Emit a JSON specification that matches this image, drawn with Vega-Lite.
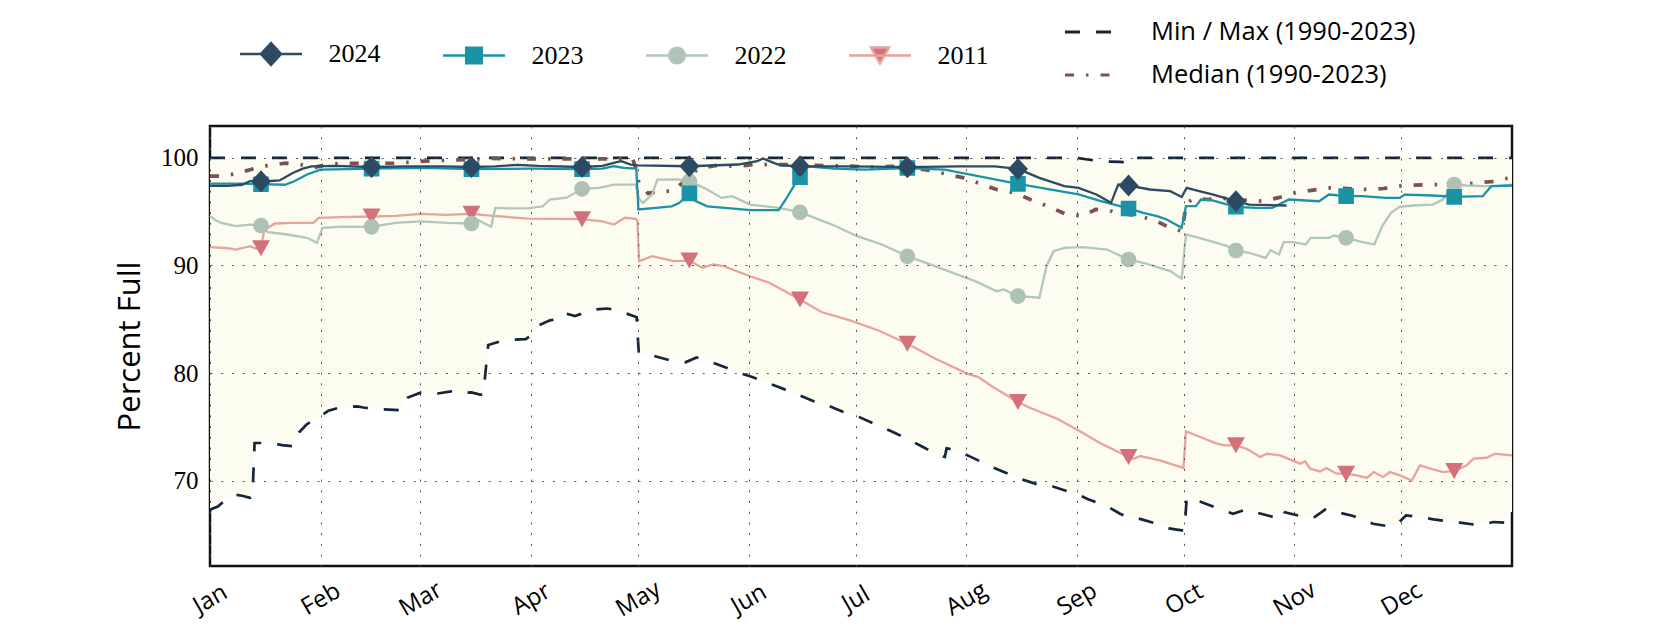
{
  "$schema": "https://vega.github.io/schema/vega-lite/v6.json",
  "width": 1302,
  "height": 440,
  "autosize": {"type": "none"},
  "padding": {"left": 210, "top": 126, "right": 168, "bottom": 64},
  "background": "#ffffff",
  "config": {
    "view": {"stroke": "#111111", "strokeWidth": 2.5},
    "axis": {"grid": true, "gridColor": "#555555", "gridWidth": 1, "gridDash": [2, 8.7], "ticks": false, "tickSize": 0, "domain": false, "labelColor": "#000000", "titleColor": "#000000", "labelFlush": false, "labelOverlap": false, "labelBound": false},
    "axisX": {"labelFont": "Open Sans", "labelFontSize": 24, "labelAngle": -30, "labelAlign": "center", "labelBaseline": "middle", "labelPadding": 33},
    "axisY": {"labelFont": "Liberation Serif", "labelFontSize": 25, "labelPadding": 12, "titleFont": "Open Sans", "titleFontSize": 31, "titleFontWeight": "normal", "titleAngle": 270, "titleAlign": "center", "titleBaseline": "middle", "titleX": -80, "titleY": 220},
    "legend": {"padding": 0}
  },
  "datasets": {
    "env": [
      {"day":0,"min":67.3,"max":100},{"day":2.2,"min":67.6,"max":100},{"day":5,"min":68.4,"max":100},{"day":7.2,"min":68.7,"max":100},{"day":9,"min":68.6,"max":100},{"day":11.2,"min":68.4,"max":100},{"day":11.9,"min":68.5,"max":100},{"day":12.5,"min":73.5,"max":100},{"day":17,"min":73.5,"max":100},{"day":20.2,"min":73.3,"max":100},{"day":23.3,"min":73.2,"max":100},{"day":25,"min":74.5,"max":100},{"day":27,"min":75.2,"max":100},{"day":29.2,"min":75.7,"max":100},{"day":31,"min":76.0,"max":100},{"day":33.2,"min":76.5,"max":100},{"day":36.3,"min":76.8,"max":100},{"day":41.2,"min":76.9,"max":100},{"day":43,"min":76.8,"max":100},{"day":45.3,"min":76.7,"max":100},{"day":50,"min":76.6,"max":100},{"day":53.5,"min":76.55,"max":100},{"day":55.3,"min":77.7,"max":100},{"day":59.2,"min":78.2,"max":100},{"day":63.8,"min":78.1,"max":100},{"day":67.6,"min":78.3,"max":100},{"day":69,"min":78.1,"max":100},{"day":73.3,"min":78.2,"max":100},{"day":75.7,"min":78.0,"max":100},{"day":76.6,"min":78.0,"max":100},{"day":78,"min":82.6,"max":100},{"day":81.8,"min":83.0,"max":100},{"day":85.3,"min":83.1,"max":100},{"day":88.5,"min":83.15,"max":100},{"day":90,"min":83.5,"max":100},{"day":92,"min":84.4,"max":100},{"day":95.3,"min":84.9,"max":100},{"day":97,"min":85.0,"max":100},{"day":99,"min":85.6,"max":100},{"day":102.3,"min":85.3,"max":100},{"day":104,"min":85.5,"max":100},{"day":106.3,"min":85.8,"max":100},{"day":108,"min":85.9,"max":100},{"day":111.3,"min":86.0,"max":100},{"day":113,"min":85.9,"max":100},{"day":115.3,"min":85.7,"max":100},{"day":118.3,"min":85.35,"max":100},{"day":119.6,"min":85.2,"max":100},{"day":120.2,"min":81.9,"max":100},{"day":123.3,"min":81.7,"max":100},{"day":129.3,"min":81.15,"max":100},{"day":133.3,"min":81.0,"max":100},{"day":136.4,"min":81.45,"max":100},{"day":139.4,"min":81.15,"max":100},{"day":144.4,"min":80.55,"max":100},{"day":147.4,"min":80.1,"max":100},{"day":151.4,"min":79.7,"max":100},{"day":159.4,"min":78.7,"max":100},{"day":164,"min":78.1,"max":100},{"day":169.4,"min":77.35,"max":100},{"day":172.4,"min":77.1,"max":100},{"day":177.4,"min":76.4,"max":100},{"day":181.4,"min":76.0,"max":100},{"day":187.4,"min":75.1,"max":100},{"day":191,"min":74.6,"max":100},{"day":195.4,"min":73.9,"max":100},{"day":200,"min":73.1,"max":100},{"day":204.6,"min":72.3,"max":100},{"day":206,"min":72.2,"max":100},{"day":206.5,"min":73.0,"max":100},{"day":208.4,"min":72.9,"max":100},{"day":212.4,"min":72.35,"max":100},{"day":219.4,"min":71.25,"max":100},{"day":227.4,"min":70.15,"max":100},{"day":233.4,"min":69.5,"max":100},{"day":236.3,"min":69.45,"max":100},{"day":242,"min":68.85,"max":100},{"day":243.5,"min":68.7,"max":99.97},{"day":246,"min":68.3,"max":99.85},{"day":249.5,"min":67.86,"max":99.7},{"day":252.3,"min":67.46,"max":99.65},{"day":255,"min":66.95,"max":99.62},{"day":257,"min":66.63,"max":99.6},{"day":258,"min":66.6,"max":99.6},{"day":258.6,"min":66.55,"max":100},{"day":259.8,"min":66.53,"max":100},{"day":265.4,"min":66.0,"max":100},{"day":269.2,"min":65.54,"max":100},{"day":272.4,"min":65.38,"max":100},{"day":273.2,"min":65.4,"max":100},{"day":273.8,"min":68.39,"max":100},{"day":277.5,"min":68.07,"max":100},{"day":282.2,"min":67.46,"max":100},{"day":286.8,"min":66.93,"max":100},{"day":290.6,"min":67.33,"max":100},{"day":293.4,"min":67.03,"max":100},{"day":298,"min":66.63,"max":100},{"day":300,"min":67.4,"max":100},{"day":301,"min":67.09,"max":100},{"day":305.6,"min":66.72,"max":100},{"day":309.3,"min":66.53,"max":100},{"day":313,"min":67.4,"max":100},{"day":315.8,"min":67.09,"max":100},{"day":320.5,"min":66.72,"max":100},{"day":326,"min":66.0,"max":100},{"day":329.9,"min":65.79,"max":100},{"day":332.4,"min":65.85,"max":100},{"day":335.3,"min":66.77,"max":100},{"day":339.2,"min":66.63,"max":100},{"day":343,"min":66.4,"max":100},{"day":350.4,"min":66.1,"max":100},{"day":356,"min":65.85,"max":100},{"day":359.8,"min":66.16,"max":100},{"day":363,"min":66.1,"max":100},{"day":363.7,"min":66.93,"max":100},{"day":365,"min":67.1,"max":100}
    ],
    "med": [
      {"day":0,"median":98.3},{"day":4,"median":98.3},{"day":8,"median":98.6},{"day":11.2,"median":98.9},{"day":14.4,"median":99.2},{"day":21.2,"median":99.5},{"day":25,"median":99.4},{"day":29.2,"median":99.1},{"day":33,"median":99.4},{"day":37,"median":99.5},{"day":45,"median":99.5},{"day":52,"median":99.5},{"day":60,"median":99.7},{"day":69,"median":99.8},{"day":78,"median":99.95},{"day":90,"median":99.9},{"day":110,"median":99.9},{"day":118.5,"median":99.9},{"day":119.5,"median":98.9},{"day":120.2,"median":97.7},{"day":122.8,"median":96.7},{"day":126,"median":96.9},{"day":129.4,"median":96.9},{"day":133,"median":97.8},{"day":136.5,"median":98.9},{"day":141.4,"median":99.28},{"day":147.9,"median":99.22},{"day":152.4,"median":99.38},{"day":162.4,"median":99.38},{"day":170,"median":99.3},{"day":180.6,"median":99.22},{"day":185.9,"median":99.13},{"day":190.9,"median":99.22},{"day":200.4,"median":98.91},{"day":205,"median":98.6},{"day":211.3,"median":98.14},{"day":220.5,"median":97.06},{"day":225.5,"median":96.75},{"day":230,"median":96.13},{"day":235.3,"median":95.45},{"day":239.7,"median":94.8},{"day":244.5,"median":94.58},{"day":248.3,"median":95.2},{"day":252.3,"median":95.1},{"day":254,"median":94.89},{"day":260.7,"median":94.6},{"day":265.4,"median":94.11},{"day":268.2,"median":93.65},{"day":272.4,"median":93.18},{"day":273.8,"median":95.8},{"day":275.6,"median":96.2},{"day":279.9,"median":96.13},{"day":282.2,"median":96.3},{"day":286.9,"median":96.13},{"day":295.3,"median":95.97},{"day":299.5,"median":96.3},{"day":304.7,"median":96.8},{"day":314,"median":97.21},{"day":324.3,"median":97.06},{"day":329,"median":97.15},{"day":334.5,"median":97.43},{"day":344.4,"median":97.52},{"day":350.3,"median":97.52},{"day":355.1,"median":97.68},{"day":359.8,"median":97.8},{"day":365,"median":98.2}
    ],
    "yrs": [
      {"s":"2011","day":0,"v":91.7},{"s":"2011","day":5,"v":91.6},{"s":"2011","day":7.2,"v":91.48},{"s":"2011","day":9,"v":91.6},{"s":"2011","day":11.2,"v":91.79},{"s":"2011","day":13,"v":91.55},{"s":"2011","day":14.3,"v":91.6},{"s":"2011","day":15.2,"v":93.3},{"s":"2011","day":18.2,"v":93.9},{"s":"2011","day":23.2,"v":93.96},{"s":"2011","day":29,"v":93.96},{"s":"2011","day":30.5,"v":94.43},{"s":"2011","day":37,"v":94.49},{"s":"2011","day":45.3,"v":94.55},{"s":"2011","day":52,"v":94.6},{"s":"2011","day":59.3,"v":94.8},{"s":"2011","day":66,"v":94.7},{"s":"2011","day":73.3,"v":94.8},{"s":"2011","day":79.3,"v":94.6},{"s":"2011","day":89.3,"v":94.36},{"s":"2011","day":104.3,"v":94.3},{"s":"2011","day":110,"v":94.1},{"s":"2011","day":113.3,"v":93.8},{"s":"2011","day":116.3,"v":94.43},{"s":"2011","day":119.3,"v":94.33},{"s":"2011","day":119.8,"v":94.2},{"s":"2011","day":120.3,"v":90.4},{"s":"2011","day":124,"v":90.86},{"s":"2011","day":130,"v":90.4},{"s":"2011","day":134.4,"v":90.45},{"s":"2011","day":138,"v":89.78},{"s":"2011","day":141,"v":90.1},{"s":"2011","day":144,"v":89.93},{"s":"2011","day":151.4,"v":89.0},{"s":"2011","day":156.8,"v":88.39},{"s":"2011","day":165.4,"v":86.84},{"s":"2011","day":171.4,"v":85.67},{"s":"2011","day":179.4,"v":84.89},{"s":"2011","day":187.4,"v":83.96},{"s":"2011","day":195.5,"v":82.72},{"s":"2011","day":203.4,"v":81.33},{"s":"2011","day":212.4,"v":79.93},{"s":"2011","day":215.4,"v":79.63},{"s":"2011","day":219.5,"v":78.7},{"s":"2011","day":226.5,"v":77.31},{"s":"2011","day":229.3,"v":76.84},{"s":"2011","day":237.5,"v":75.76},{"s":"2011","day":243.5,"v":74.67},{"s":"2011","day":249.5,"v":73.5},{"s":"2011","day":257.5,"v":72.2},{"s":"2011","day":258.9,"v":72.04},{"s":"2011","day":260.8,"v":72.29},{"s":"2011","day":266.3,"v":71.88},{"s":"2011","day":269.1,"v":71.58},{"s":"2011","day":272.9,"v":71.18},{"s":"2011","day":273.6,"v":74.58},{"s":"2011","day":277.6,"v":74.06},{"s":"2011","day":282.2,"v":73.44},{"s":"2011","day":284.5,"v":73.28},{"s":"2011","day":287.6,"v":73.28},{"s":"2011","day":290.6,"v":72.97},{"s":"2011","day":294.4,"v":72.2},{"s":"2011","day":296.3,"v":72.5},{"s":"2011","day":300,"v":72.35},{"s":"2011","day":305.6,"v":71.58},{"s":"2011","day":307,"v":71.8},{"s":"2011","day":308.4,"v":71.11},{"s":"2011","day":311.2,"v":70.86},{"s":"2011","day":313,"v":71.18},{"s":"2011","day":315.8,"v":70.65},{"s":"2011","day":318.5,"v":70.65},{"s":"2011","day":321.5,"v":70.49},{"s":"2011","day":324.3,"v":70.25},{"s":"2011","day":326.2,"v":70.8},{"s":"2011","day":328.9,"v":70.34},{"s":"2011","day":330.8,"v":70.8},{"s":"2011","day":333.6,"v":70.49},{"s":"2011","day":336.9,"v":70.02},{"s":"2011","day":339.2,"v":71.42},{"s":"2011","day":342.9,"v":71.05},{"s":"2011","day":345.7,"v":70.8},{"s":"2011","day":348.8,"v":70.9},{"s":"2011","day":352.3,"v":71.42},{"s":"2011","day":354.2,"v":72.04},{"s":"2011","day":357.9,"v":72.13},{"s":"2011","day":360.2,"v":72.5},{"s":"2011","day":365,"v":72.35},
      {"s":"2022","day":0,"v":94.6},{"s":"2022","day":1.5,"v":94.2},{"s":"2022","day":3.2,"v":93.96},{"s":"2022","day":7.2,"v":93.65},{"s":"2022","day":11.2,"v":93.8},{"s":"2022","day":14.3,"v":93.71},{"s":"2022","day":16.2,"v":93.1},{"s":"2022","day":21.2,"v":92.9},{"s":"2022","day":27.2,"v":92.57},{"s":"2022","day":30,"v":92.1},{"s":"2022","day":31.5,"v":93.5},{"s":"2022","day":37,"v":93.6},{"s":"2022","day":45.3,"v":93.59},{"s":"2022","day":52,"v":93.96},{"s":"2022","day":59,"v":94.1},{"s":"2022","day":66.6,"v":93.96},{"s":"2022","day":73.3,"v":93.9},{"s":"2022","day":75.3,"v":94.2},{"s":"2022","day":78.8,"v":93.6},{"s":"2022","day":80,"v":95.35},{"s":"2022","day":84.3,"v":95.3},{"s":"2022","day":89.3,"v":95.3},{"s":"2022","day":93.3,"v":95.5},{"s":"2022","day":95.3,"v":96.13},{"s":"2022","day":100,"v":96.3},{"s":"2022","day":104.3,"v":97.12},{"s":"2022","day":109,"v":97.2},{"s":"2022","day":113.3,"v":97.52},{"s":"2022","day":119.3,"v":97.52},{"s":"2022","day":120.4,"v":96.13},{"s":"2022","day":121.4,"v":95.82},{"s":"2022","day":123.9,"v":96.59},{"s":"2022","day":125.4,"v":97.98},{"s":"2022","day":131.3,"v":98.0},{"s":"2022","day":134.4,"v":97.83},{"s":"2022","day":139.4,"v":97.06},{"s":"2022","day":143.4,"v":96.28},{"s":"2022","day":146.4,"v":96.44},{"s":"2022","day":151.4,"v":95.66},{"s":"2022","day":159.4,"v":95.35},{"s":"2022","day":165.4,"v":94.95},{"s":"2022","day":174.4,"v":93.8},{"s":"2022","day":181.4,"v":92.72},{"s":"2022","day":188.4,"v":91.95},{"s":"2022","day":195.5,"v":90.86},{"s":"2022","day":204.5,"v":89.78},{"s":"2022","day":214.5,"v":88.54},{"s":"2022","day":220.5,"v":87.61},{"s":"2022","day":222.5,"v":87.77},{"s":"2022","day":226.5,"v":87.15},{"s":"2022","day":232.5,"v":87.0},{"s":"2022","day":234.5,"v":89.93},{"s":"2022","day":236.5,"v":91.33},{"s":"2022","day":239.5,"v":91.64},{"s":"2022","day":244.5,"v":91.7},{"s":"2022","day":251.5,"v":91.48},{"s":"2022","day":257.5,"v":90.55},{"s":"2022","day":261.6,"v":90.25},{"s":"2022","day":266.3,"v":89.78},{"s":"2022","day":269.2,"v":89.47},{"s":"2022","day":272.4,"v":88.76},{"s":"2022","day":273.6,"v":92.88},{"s":"2022","day":277.3,"v":92.57},{"s":"2022","day":284.8,"v":91.85},{"s":"2022","day":287.6,"v":91.39},{"s":"2022","day":291.3,"v":91.18},{"s":"2022","day":296,"v":90.71},{"s":"2022","day":297.3,"v":91.42},{"s":"2022","day":299.7,"v":91.02},{"s":"2022","day":301,"v":92.16},{"s":"2022","day":303.4,"v":92.16},{"s":"2022","day":307.2,"v":91.95},{"s":"2022","day":308.5,"v":92.57},{"s":"2022","day":313.7,"v":92.57},{"s":"2022","day":315.1,"v":92.78},{"s":"2022","day":318.5,"v":92.57},{"s":"2022","day":323.1,"v":92.16},{"s":"2022","day":326.4,"v":91.95},{"s":"2022","day":328.7,"v":93.71},{"s":"2022","day":331.1,"v":94.89},{"s":"2022","day":333.5,"v":95.45},{"s":"2022","day":337.2,"v":95.57},{"s":"2022","day":342.8,"v":95.66},{"s":"2022","day":345.6,"v":96.13},{"s":"2022","day":348.8,"v":97.52},{"s":"2022","day":352.2,"v":97.43},{"s":"2022","day":356.8,"v":97.37},{"s":"2022","day":361.5,"v":97.37},{"s":"2022","day":365,"v":97.52},
      {"s":"2023","day":0,"v":97.6},{"s":"2023","day":9,"v":97.6},{"s":"2023","day":14.3,"v":97.55},{"s":"2023","day":21,"v":97.5},{"s":"2023","day":23.5,"v":97.8},{"s":"2023","day":27.2,"v":98.45},{"s":"2023","day":31,"v":98.9},{"s":"2023","day":45.3,"v":99.0},{"s":"2023","day":60,"v":99.07},{"s":"2023","day":73.3,"v":98.95},{"s":"2023","day":90,"v":99.0},{"s":"2023","day":104.3,"v":98.95},{"s":"2023","day":110,"v":99.0},{"s":"2023","day":113.3,"v":99.22},{"s":"2023","day":116,"v":99.07},{"s":"2023","day":119.5,"v":99.0},{"s":"2023","day":120.1,"v":95.2},{"s":"2023","day":125,"v":95.36},{"s":"2023","day":129.4,"v":95.5},{"s":"2023","day":131.5,"v":95.8},{"s":"2023","day":134.4,"v":96.7},{"s":"2023","day":136,"v":96.0},{"s":"2023","day":139.4,"v":95.5},{"s":"2023","day":146,"v":95.3},{"s":"2023","day":151.4,"v":95.14},{"s":"2023","day":159.4,"v":95.14},{"s":"2023","day":161.4,"v":96.13},{"s":"2023","day":163.9,"v":97.52},{"s":"2023","day":165.4,"v":98.2},{"s":"2023","day":167.4,"v":99.2},{"s":"2023","day":175,"v":99.0},{"s":"2023","day":183.5,"v":98.9},{"s":"2023","day":195.5,"v":99.05},{"s":"2023","day":206,"v":98.91},{"s":"2023","day":226.5,"v":97.58},{"s":"2023","day":243.5,"v":96.6},{"s":"2023","day":249.5,"v":96.0},{"s":"2023","day":257.5,"v":95.3},{"s":"2023","day":261.6,"v":94.89},{"s":"2023","day":265.5,"v":94.58},{"s":"2023","day":268.2,"v":94.27},{"s":"2023","day":272.4,"v":93.5},{"s":"2023","day":273.6,"v":95.51},{"s":"2023","day":276.4,"v":95.51},{"s":"2023","day":277.8,"v":96.13},{"s":"2023","day":281,"v":96.04},{"s":"2023","day":287.6,"v":95.45},{"s":"2023","day":293.2,"v":95.35},{"s":"2023","day":297.8,"v":95.35},{"s":"2023","day":302.5,"v":96.13},{"s":"2023","day":310.9,"v":95.97},{"s":"2023","day":313.7,"v":96.59},{"s":"2023","day":318.5,"v":96.44},{"s":"2023","day":323,"v":96.44},{"s":"2023","day":329.7,"v":96.28},{"s":"2023","day":333.5,"v":96.28},{"s":"2023","day":334.9,"v":96.59},{"s":"2023","day":342.8,"v":96.5},{"s":"2023","day":348.8,"v":96.37},{"s":"2023","day":356.8,"v":96.44},{"s":"2023","day":359.2,"v":97.37},{"s":"2023","day":365,"v":97.43},
      {"s":"2024","day":0,"v":97.4},{"s":"2024","day":5,"v":97.4},{"s":"2024","day":9,"v":97.5},{"s":"2024","day":11.2,"v":97.83},{"s":"2024","day":14.3,"v":97.83},{"s":"2024","day":17,"v":97.85},{"s":"2024","day":19.5,"v":97.9},{"s":"2024","day":23.2,"v":98.6},{"s":"2024","day":26,"v":99.0},{"s":"2024","day":28.5,"v":99.2},{"s":"2024","day":35,"v":99.25},{"s":"2024","day":45.3,"v":99.15},{"s":"2024","day":55,"v":99.2},{"s":"2024","day":65,"v":99.2},{"s":"2024","day":73.3,"v":99.15},{"s":"2024","day":80,"v":99.2},{"s":"2024","day":86,"v":99.35},{"s":"2024","day":92,"v":99.25},{"s":"2024","day":104.3,"v":99.15},{"s":"2024","day":110,"v":99.25},{"s":"2024","day":114,"v":99.6},{"s":"2024","day":115.3,"v":99.7},{"s":"2024","day":118,"v":99.38},{"s":"2024","day":120,"v":99.3},{"s":"2024","day":134.4,"v":99.22},{"s":"2024","day":148,"v":99.38},{"s":"2024","day":153.4,"v":99.69},{"s":"2024","day":155,"v":99.95},{"s":"2024","day":158,"v":99.53},{"s":"2024","day":160,"v":99.3},{"s":"2024","day":165.4,"v":99.22},{"s":"2024","day":180,"v":99.2},{"s":"2024","day":195.5,"v":99.13},{"s":"2024","day":210,"v":99.2},{"s":"2024","day":220,"v":99.2},{"s":"2024","day":226.5,"v":98.97},{"s":"2024","day":232.5,"v":98.14},{"s":"2024","day":239.5,"v":97.37},{"s":"2024","day":243.5,"v":97.2},{"s":"2024","day":248.5,"v":96.6},{"s":"2024","day":252.6,"v":95.82},{"s":"2024","day":254.6,"v":97.52},{"s":"2024","day":257.5,"v":97.43},{"s":"2024","day":263.5,"v":97.06},{"s":"2024","day":269.2,"v":96.9},{"s":"2024","day":272.4,"v":96.37},{"s":"2024","day":273.8,"v":97.21},{"s":"2024","day":277.3,"v":96.9},{"s":"2024","day":281,"v":96.6},{"s":"2024","day":287.6,"v":95.97},{"s":"2024","day":291.3,"v":95.66},{"s":"2024","day":301.8,"v":95.57}
    ]
  },
  "layer": [
    {
      "data": {"name": "env"},
      "mark": {"type": "area", "color": "#fcfcf0"},
      "encoding": {
        "x": {"field": "day", "type": "quantitative", "title": null,
          "scale": {"domain": [0, 365], "nice": false, "zero": false},
          "axis": {"zindex": 1, "values": [0,31,59,90,120,151,181,212,243,273,304,334],
            "labelExpr": "['Jan','Feb','Mar','Apr','May','Jun','Jul','Aug','Sep','Oct','Nov','Dec'][indexof([0,31,59,90,120,151,181,212,243,273,304,334], datum.value)]"}},
        "y": {"field": "min", "type": "quantitative", "title": "Percent Full",
          "scale": {"domain": [62.07, 102.96], "nice": false, "zero": false},
          "axis": {"zindex": 1, "values": [70, 80, 90, 100]}},
        "y2": {"field": "max"}
      }
    },
    {
      "data": {"name": "env"},
      "transform": [{"fold": ["min", "max"], "as": ["stat", "v"]}],
      "mark": {"type": "line", "strokeWidth": 2.7},
      "encoding": {
        "x": {"field": "day", "type": "quantitative", "title": null},
        "y": {"field": "v", "type": "quantitative", "title": "Percent Full"},
        "stroke": {"field": "stat", "type": "nominal",
          "scale": {"domain": ["min", "max", "median"], "range": ["#15263b", "#15263b", "#7b5058"]},
          "legend": {"orient": "none", "legendX": 853.5, "legendY": -119, "direction": "vertical", "title": null,
            "values": ["max", "median"],
            "labelExpr": "datum.value === 'max' ? 'Min / Max (1990-2023)' : 'Median (1990-2023)'",
            "labelFont": "Open Sans", "labelFontSize": 25.5, "labelColor": "#000000", "labelOffset": 37.5, "rowPadding": 4, "labelLimit": 500,
            "symbolSize": 2209, "symbolType": "stroke", "symbolStrokeWidth": 3}},
        "strokeDash": {"field": "stat", "type": "nominal",
          "scale": {"domain": ["min", "max", "median"], "range": [[15, 16], [15, 16], [9, 12, 2.5, 12]]}}
      }
    },
    {
      "data": {"name": "med"},
      "transform": [{"fold": ["median"], "as": ["stat", "v"]}],
      "mark": {"type": "line", "strokeWidth": 3.7},
      "encoding": {
        "x": {"field": "day", "type": "quantitative", "title": null},
        "y": {"field": "v", "type": "quantitative", "title": "Percent Full"},
        "stroke": {"field": "stat", "type": "nominal"},
        "strokeDash": {"field": "stat", "type": "nominal"}
      }
    },
    {
      "data": {"name": "yrs"},
      "mark": {"type": "line", "strokeWidth": 2.3},
      "encoding": {
        "x": {"field": "day", "type": "quantitative", "title": null},
        "y": {"field": "v", "type": "quantitative", "title": "Percent Full"},
        "color": {"field": "s", "type": "nominal",
          "scale": {"domain": ["2024", "2023", "2022", "2011"], "range": ["#2c4a63", "#1a93a6", "#b2c6ba", "#e8a39d"]},
          "legend": {"orient": "none", "legendX": 48, "legendY": -85, "direction": "horizontal", "columns": 4, "title": null,
            "labelFont": "Liberation Serif", "labelFontSize": 26, "labelColor": "#000000", "labelOffset": 44.5, "columnPadding": 57,
            "symbolSize": 400, "symbolStrokeWidth": 2.5}}
      }
    },
    {
      "data": {"name": "yrs"},
      "transform": [{"filter": {"field": "day", "oneOf": [14.3, 45.3, 73.3, 104.3, 134.4, 165.4, 195.5, 226.5, 257.5, 287.6, 318.5, 348.8]}}],
      "mark": {"type": "point", "filled": true, "size": 400, "opacity": 1},
      "encoding": {
        "x": {"field": "day", "type": "quantitative", "title": null},
        "y": {"field": "v", "type": "quantitative", "title": "Percent Full"},
        "shape": {"field": "s", "type": "nominal",
          "scale": {"domain": ["2024", "2023", "2022", "2011"],
            "range": ["M-3.1,0H3.1M0,-1.1L1,0L0,1.1L-1,0Z", "M-3.1,0H3.1M-0.78,-0.78H0.78V0.78H-0.78Z", "M-3.1,0H3.1M-0.78,0A0.78,0.78,0,1,0,0.78,0A0.78,0.78,0,1,0,-0.78,0Z", "M-3.1,0H3.1M-0.9,-0.8H0.9L0,0.8Z"]}},
        "fill": {"field": "s", "type": "nominal",
          "scale": {"domain": ["2024", "2023", "2022", "2011"], "range": ["#2c4a63", "#1a93a6", "#adc1b5", "#d4707a"]}}
      }
    }
  ]
}
